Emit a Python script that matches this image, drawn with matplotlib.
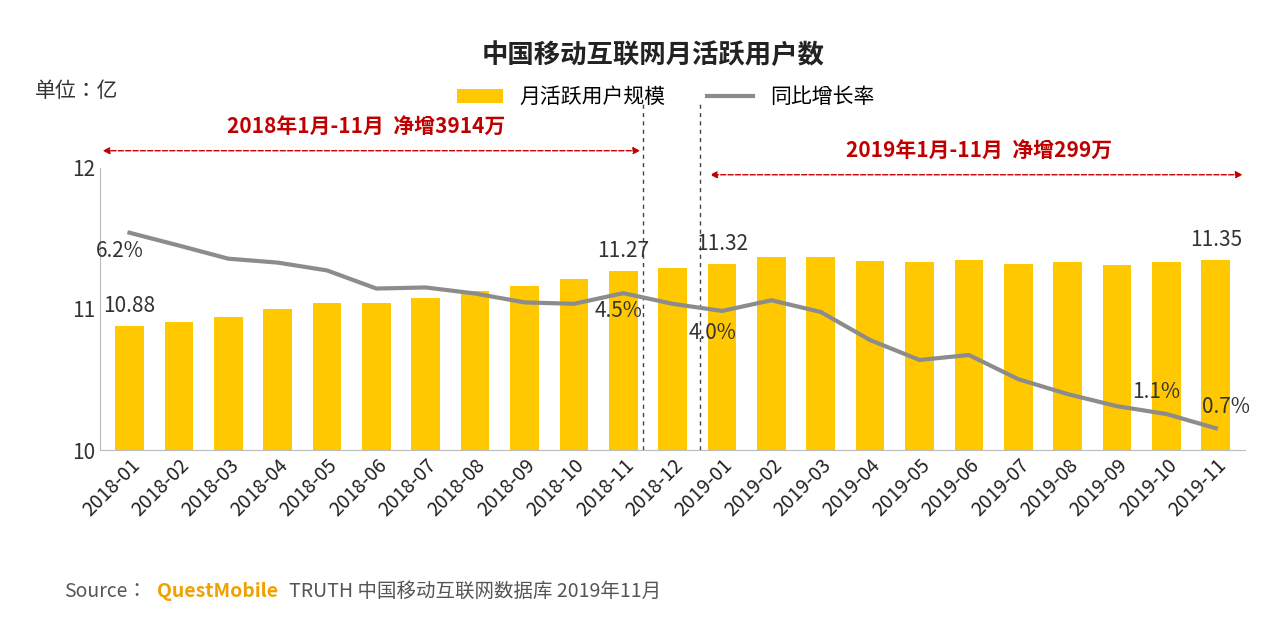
import matplotlib.pyplot as plt
from matplotlib import font_manager
import numpy as np

cjk = [f.name for f in font_manager.fontManager.ttflist if 'Sans CJK' in f.name]
plt.rcParams['font.family'] = 'sans-serif'
plt.rcParams['font.sans-serif'] = ['Noto Sans CJK SC'] + cjk + ['DejaVu Sans']

months = ['2018-%02d' % i for i in range(1, 13)] + ['2019-%02d' % i for i in range(1, 12)]
mau = [10.88, 10.91, 10.94, 11.00, 11.04, 11.04, 11.08, 11.13, 11.16, 11.21, 11.27, 11.29,
       11.32, 11.37, 11.37, 11.34, 11.33, 11.35, 11.32, 11.33, 11.31, 11.33, 11.35]
rate = [6.2, 5.84, 5.47, 5.36, 5.14, 4.63, 4.66, 4.49, 4.24, 4.2, 4.5, 4.2,
        4.0, 4.3, 3.97, 3.18, 2.62, 2.76, 2.08, 1.66, 1.32, 1.1, 0.7]
bar_labels = {0: '10.88', 10: '11.27', 12: '11.32', 22: '11.35'}
rate_labels = {0: '6.2%', 10: '4.5%', 12: '4.0%', 21: '1.1%', 22: '0.7%'}

fig = plt.figure(figsize=(12.8, 6.28), dpi=100)
ax = fig.add_axes([0.078, 0.283, 0.895, 0.45])
x = np.arange(len(months))
ax.bar(x, mau, width=0.58, color='#FFC800', label='月活跃用户规模')
ax.set_ylim(10, 12)
ax.set_xlim(-0.6, len(months) - 0.4)
ax.set_yticks([10, 11, 12])
ax.tick_params(axis='y', length=0, labelsize=15, colors='#333333')
ax.set_xticks(x)
ax.set_xticklabels(months, rotation=45, ha='right', rotation_mode='anchor', fontsize=14, color='#222222')
ax.tick_params(axis='x', length=0)
for s in ['top', 'right']:
    ax.spines[s].set_visible(False)
ax.spines['left'].set_color('#bbbbbb')
ax.spines['bottom'].set_color('#bbbbbb')
for i, t in bar_labels.items():
    ax.text(i, mau[i] + 0.06, t, ha='center', va='bottom', fontsize=15, color='#333333')

ax2 = ax.twinx()
ax2.plot(x, rate, color='#8c8c8c', lw=3, label='同比增长率')
ax2.set_ylim(0.08, 8.03)
ax2.axis('off')
offs = {0: (-0.2, -0.2, 'top'), 10: (-0.1, -0.2, 'top'), 12: (-0.2, -0.3, 'top'),
        21: (-0.2, 0.3, 'bottom'), 22: (0.2, 0.3, 'bottom')}
for i, t in rate_labels.items():
    dx, dy, va = offs[i]
    ax2.text(i + dx, rate[i] + dy, t, ha='center', va=va, fontsize=15, color='#333333')

for xv in [10.4, 11.55]:
    ax.axvline(xv, ymin=0, ymax=1.24, color='#444444', ls=(0, (3, 3)), lw=1, clip_on=False)
ax.annotate('', xy=(-0.6, 12.12), xytext=(10.4, 12.12), annotation_clip=False,
            arrowprops=dict(arrowstyle='<|-|>', color='#c00000', ls='--', lw=1))
ax.annotate('', xy=(11.7, 11.95), xytext=(22.6, 11.95), annotation_clip=False,
            arrowprops=dict(arrowstyle='<|-|>', color='#c00000', ls='--', lw=1))
ax.text(4.8, 12.22, '2018年1月-11月  净增3914万', ha='center', va='bottom', fontsize=15,
        color='#c00000', fontweight='bold')
ax.text(17.2, 12.05, '2019年1月-11月  净增299万', ha='center', va='bottom', fontsize=15,
        color='#c00000', fontweight='bold')

fig.text(0.51, 0.9, '中国移动互联网月活跃用户数', ha='center', fontsize=19, fontweight='bold', color='#222222')
fig.text(0.027, 0.845, '单位：亿', fontsize=15, color='#333333')
h1, l1 = ax.get_legend_handles_labels()
h2, l2 = ax2.get_legend_handles_labels()
fig.legend(h1 + h2, l1 + l2, loc='center', bbox_to_anchor=(0.52, 0.845), ncol=2, frameon=False,
           fontsize=15, handlelength=2.2, columnspacing=2)
fig.text(0.05, 0.05, 'Source：', fontsize=14, color='#555555')
fig.text(0.123, 0.05, 'QuestMobile', fontsize=14, color='#F0A000', fontweight='bold')
fig.text(0.226, 0.05, 'TRUTH 中国移动互联网数据库 2019年11月', fontsize=14, color='#555555')
fig.savefig('out.png', dpi=100)
